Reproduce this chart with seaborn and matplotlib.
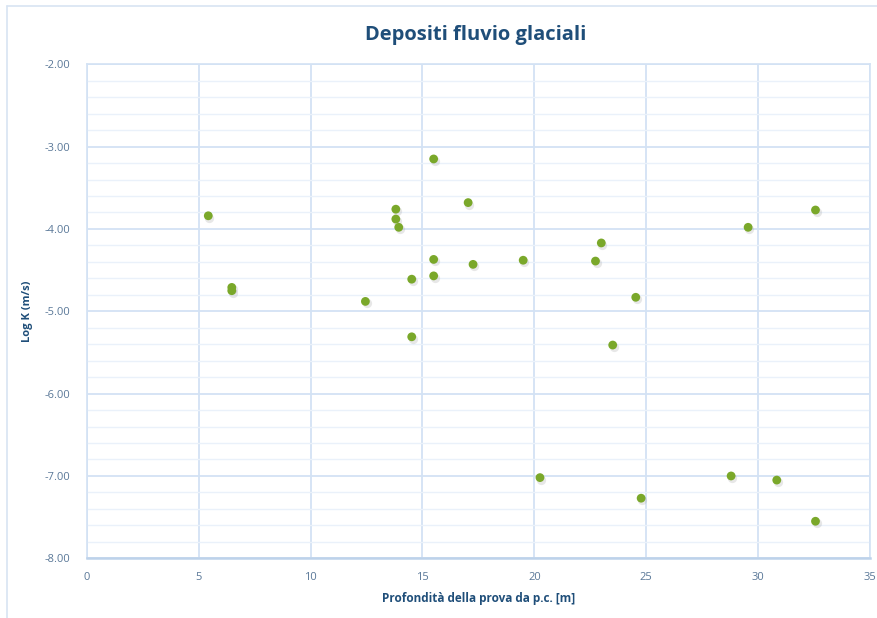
import matplotlib
matplotlib.use("Agg")
import matplotlib.pyplot as plt
import matplotlib.ticker as mticker
from matplotlib.lines import Line2D
import seaborn as sns
import pandas as pd

# Data
depth = [5.43, 6.48, 6.48, 12.45, 13.81, 13.81, 13.94, 15.5, 14.52, 14.52,
         15.5, 15.5, 17.04, 17.26, 19.5, 22.99, 22.73, 24.53, 29.55, 32.56,
         23.5, 20.25, 24.77, 28.79, 30.83, 32.56]
logk = [-3.84, -4.71, -4.75, -4.88, -3.76, -3.88, -3.98, -3.15, -4.61, -5.31,
        -4.37, -4.57, -3.68, -4.43, -4.38, -4.17, -4.39, -4.83, -3.98, -3.77,
        -5.41, -7.02, -7.27, -7.00, -7.05, -7.55]

title = "Depositi fluvio glaciali"
xlabel = "Profondità della prova da p.c. [m]"
ylabel = "Log K (m/s)"

df = pd.DataFrame({"x": depth, "y": logk})

sns.set_theme(style="white")
plt.rcParams['font.family'] = ['Open Sans', 'DejaVu Sans']

fig = plt.figure(figsize=(8.78, 6.18), dpi=100)
ax = fig.add_axes([0.0988, 0.0966, 0.8922, 0.7994])

dark_blue = "#1F4E79"
tick_col = "#5A7898"
major_grid = "#D3E2F4"
minor_grid = "#EAF1FA"
green = "#7AA82A"

# soft shadow
ax.scatter([v + 0.05 for v in depth], [v - 0.025 for v in logk], s=44,
           color="#a0a0a0", alpha=0.25, linewidths=0, zorder=2)
sns.scatterplot(data=df, x="x", y="y", ax=ax, s=40, color=green,
                edgecolor="none", linewidth=0, zorder=3, legend=False)

ax.set_xlim(0, 35)
ax.set_ylim(-8, -2)
ax.xaxis.set_major_locator(mticker.MultipleLocator(5))
ax.yaxis.set_major_locator(mticker.MultipleLocator(1))
ax.yaxis.set_minor_locator(mticker.MultipleLocator(0.2))
ax.yaxis.set_major_formatter(mticker.FuncFormatter(lambda v, p: f"{v:.2f}"))

ax.grid(True, which="major", color=major_grid, linewidth=1.3, zorder=0)
ax.grid(True, which="minor", axis="y", color=minor_grid, linewidth=1.0, zorder=0)
ax.set_axisbelow(True)

for s in ["top", "right", "left"]:
    ax.spines[s].set_visible(True)
    ax.spines[s].set_color(major_grid)
    ax.spines[s].set_linewidth(1.2)
ax.spines["bottom"].set_color("#BDD2EA")
ax.spines["bottom"].set_linewidth(1.8)

ax.tick_params(axis="both", which="both", length=0, labelsize=8, colors=tick_col)
ax.tick_params(axis="x", pad=10)
ax.tick_params(axis="y", pad=12)

ax.set_xlabel(xlabel, fontsize=8.5, fontweight="bold", color=dark_blue, labelpad=6)
ax.set_ylabel(ylabel, fontsize=8, fontweight="bold", color=dark_blue, labelpad=8)
fig.text(0.5415, 0.943, title, ha="center", va="center", fontsize=14.5,
         fontweight="bold", color=dark_blue)

# outer chart border (left & top visible)
fig.add_artist(Line2D([7/878, 7/878], [0, 1 - 6/618], color="#D8E4F2", linewidth=1.2,
                      transform=fig.transFigure))
fig.add_artist(Line2D([7/878, 1], [1 - 6/618, 1 - 6/618], color="#D8E4F2", linewidth=1.2,
                      transform=fig.transFigure))

fig.savefig("out.png", dpi=100)
